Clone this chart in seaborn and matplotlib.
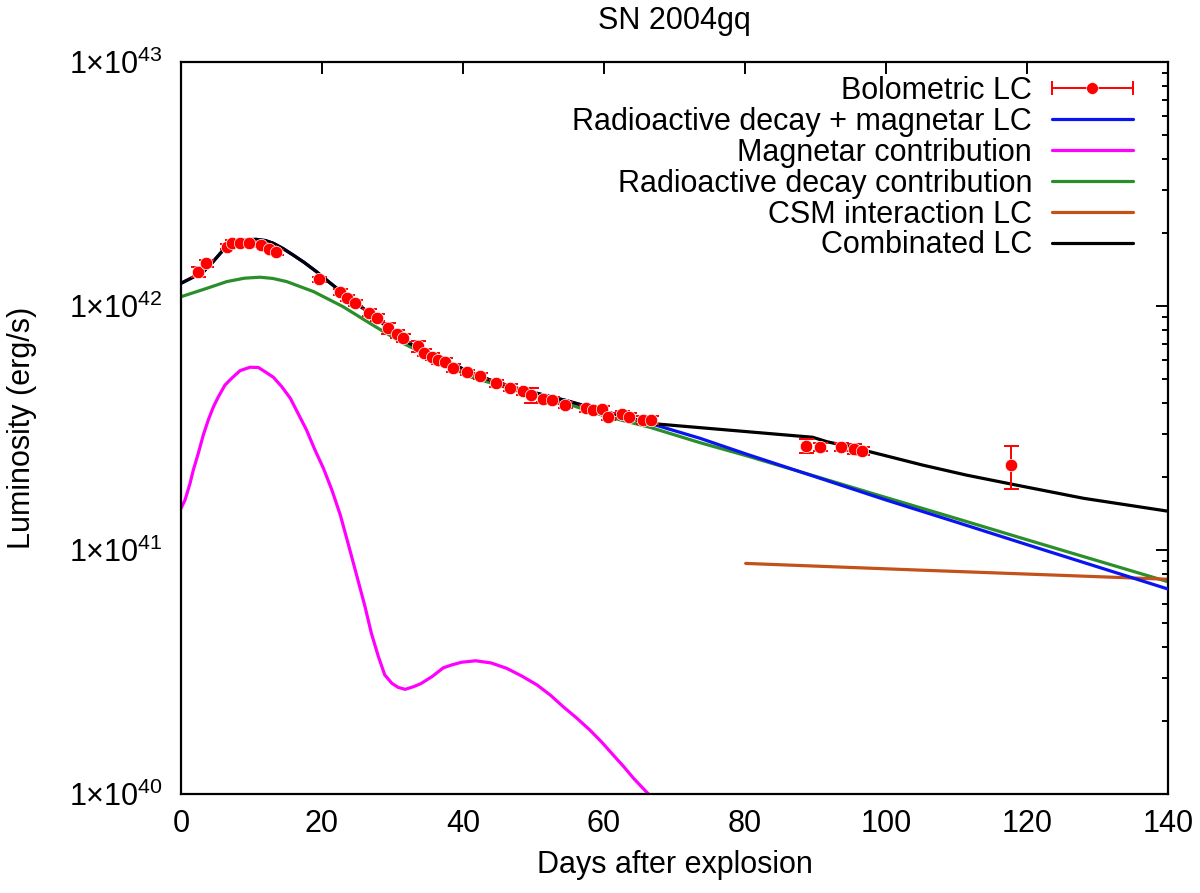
import numpy as np
import pandas as pd
import matplotlib
matplotlib.use("Agg")
import matplotlib.pyplot as plt
import seaborn as sns
from matplotlib.lines import Line2D
from matplotlib.legend_handler import HandlerLine2D
from matplotlib.ticker import LogLocator, NullFormatter

# ---------------- data ----------------
obs_days = [2.4, 3.6, 6.5, 7.2, 8.4, 9.6, 11.3, 12.5, 13.5,
            19.6, 22.5, 23.6, 24.7, 26.6, 27.8, 29.4, 30.6, 31.5,
            33.6, 34.4, 35.6, 36.5, 37.4, 38.6, 40.5,
            42.4, 44.7, 46.6, 48.5, 49.6, 51.4, 52.6, 54.4,
            57.4, 58.5, 59.7, 60.6, 62.5, 63.6, 65.5, 66.6,
            88.7, 90.6, 93.6, 95.4, 96.6, 117.7]
obs_lum42 = [1.38, 1.50, 1.75, 1.82, 1.82, 1.82, 1.78, 1.72, 1.66,
             1.29, 1.14, 1.08, 1.03, 0.94, 0.895, 0.81, 0.77, 0.74,
             0.685, 0.644, 0.62, 0.60, 0.59, 0.556, 0.534,
             0.517, 0.482, 0.462, 0.448, 0.432, 0.416, 0.41, 0.393,
             0.381, 0.375, 0.377, 0.352, 0.36, 0.352, 0.341, 0.341,
             0.267, 0.264, 0.264, 0.259, 0.255, 0.223]
obs_err42 = [0.06, 0.05, 0.04, 0.04, 0.03, 0.03, 0.04, 0.04, 0.04,
             0.03, 0.03, 0.03, 0.03, 0.03, 0.03, 0.04, 0.03, 0.03,
             0.035, 0.02, 0.02, 0.02, 0.02, 0.02, 0.015,
             0.015, 0.015, 0.015, 0.015, 0.03, 0.012, 0.012, 0.012,
             0.012, 0.012, 0.012, 0.012, 0.012, 0.012, 0.012, 0.012,
             0.018, 0.01, 0.01, 0.012, 0.01, 0.045]

# Radioactive decay + magnetar (blue), log10 L
blue_days = [0, 1.5, 3.2, 4.5, 6.0, 7.9, 9.3, 10.7, 12, 13.1, 14.5, 15.9, 17.5, 19.2,
             21, 23.0, 24.9, 26.8, 29, 31.5, 33.9, 36.3, 38.7, 41.0, 44, 48, 51.5,
             54.7, 58, 62, 66.5, 73.6, 80, 90, 100, 110, 120, 130, 140]
blue_log = [42.093, 42.115, 42.141, 42.18, 42.23, 42.264, 42.272, 42.273, 42.268, 42.257,
            42.235, 42.209, 42.178, 42.141, 42.098, 42.052, 42.01, 41.97, 41.92, 41.861,
            41.825, 41.792, 41.76, 41.728, 41.695, 41.66, 41.635, 41.612, 41.585, 41.553,
            41.519, 41.458, 41.395, 41.30, 41.205, 41.114, 41.022, 40.931, 40.84]

# Magnetar contribution (magenta)
mag_days = [0, 0.57, 1.28, 1.75, 2.45, 3.16, 3.87, 4.6, 5.3, 6.24, 7.2, 8.37, 9.8, 10.97,
            11.9, 13.1, 14.3, 15.5, 16.6, 17.8, 19.0, 20.2, 21.4, 22.6, 23.7, 24.9, 26.1,
            27.0, 28.0, 28.9, 29.9, 30.8, 31.8, 33.0, 34.0, 35.6, 37.2, 38.4, 39.8, 41.8,
            44.0, 46.2, 48.3, 50.5, 52.4, 54.2, 56.1, 58.0, 59.7, 61.3, 62.8, 64.2, 66.3,
            68.5]
mag_log = [41.171, 41.205, 41.273, 41.328, 41.396, 41.471, 41.533, 41.587, 41.628, 41.676,
           41.704, 41.735, 41.749, 41.748, 41.731, 41.708, 41.669, 41.622, 41.56, 41.492,
           41.41, 41.335, 41.246, 41.143, 41.027, 40.898, 40.768, 40.659, 40.563, 40.488,
           40.454, 40.437, 40.429, 40.44, 40.452, 40.481, 40.517, 40.529, 40.54, 40.546,
           40.537, 40.515, 40.484, 40.447, 40.405, 40.358, 40.312, 40.262, 40.212, 40.16,
           40.112, 40.064, 40.0, 39.9]

# Radioactive decay contribution (green)
green_days = [0, 3.2, 6.5, 9, 11.2, 13, 15.0, 18.8, 23.0, 26.8, 31.5, 36.3, 41.0,
              48, 54.7, 60, 66.5, 73.6, 80, 90, 100, 110, 120, 130, 140]
green_log = [42.038, 42.068, 42.10, 42.114, 42.118, 42.113, 42.10, 42.059, 41.997,
             41.929, 41.847, 41.779, 41.71, 41.65, 41.60, 41.55, 41.503, 41.44,
             41.388, 41.302, 41.215, 41.129, 41.042, 40.956, 40.87]

# CSM interaction LC (orange)
csm_days = [80.1, 104.4, 140]
csm_log = [40.945, 40.918, 40.88]

# Combined LC (black)
comb_days = [0, 1.5, 3.2, 4.5, 6.0, 7.9, 9.3, 10.7, 12, 13.1, 14.5, 15.9, 17.5, 19.2,
             21, 23.0, 24.9, 26.8, 29, 31.5, 33.9, 36.3, 38.7, 41.0, 44, 48, 51.5,
             54.7, 58, 62, 66.5, 89.6, 91.6, 94.9, 99.6, 105.2, 111.4, 118.5, 128, 140]
comb_log = [42.093, 42.115, 42.141, 42.18, 42.23, 42.264, 42.272, 42.273, 42.268, 42.257,
            42.235, 42.209, 42.178, 42.141, 42.098, 42.052, 42.01, 41.97, 41.92, 41.861,
            41.825, 41.792, 41.76, 41.728, 41.695, 41.66, 41.635, 41.612, 41.585, 41.553,
            41.519, 41.462, 41.444, 41.423, 41.389, 41.348, 41.307, 41.266, 41.212, 41.159]

xtick_vals = [0, 20, 40, 60, 80, 100, 120, 140]
ytick_vals = [1e40, 1e41, 1e42, 1e43]
ytick_labels = [r"$\mathregular{1{\times}10^{40}}$", r"$\mathregular{1{\times}10^{41}}$",
                r"$\mathregular{1{\times}10^{42}}$", r"$\mathregular{1{\times}10^{43}}$"]
legend_labels = ["Bolometric LC", "Radioactive decay + magnetar LC", "Magnetar contribution",
                 "Radioactive decay contribution", "CSM interaction LC", "Combinated LC"]

# ---------------- style ----------------
sns.set_theme(style="white", rc={
    "axes.edgecolor": "black", "text.color": "black", "axes.labelcolor": "black",
    "xtick.color": "black", "ytick.color": "black"})
plt.rcParams["font.family"] = ["Liberation Sans", "DejaVu Sans"]
plt.rcParams["mathtext.fontset"] = "custom"
plt.rcParams["mathtext.rm"] = "Liberation Sans"
plt.rcParams["mathtext.it"] = "Liberation Sans:italic"
plt.rcParams["mathtext.bf"] = "Liberation Sans:bold"

FS = 22
LW = 2.3
C_BLUE, C_MAG, C_GREEN, C_CSM, C_BLACK = "#0a14f0", "#ff00ff", "#2a8f2a", "#c4501a", "#000000"

fig = plt.figure(figsize=(12, 8.93), dpi=100)
ax = fig.add_axes([181 / 1200, 1 - 794 / 893, 987 / 1200, 732 / 893])
ax.set_yscale("log")


def curve(days, logs, color, z):
    df = pd.DataFrame({"day": days, "L": 10.0 ** np.asarray(logs)})
    sns.lineplot(data=df, x="day", y="L", color=color, lw=LW, sort=False,
                 estimator=None, ax=ax, zorder=z, legend=False)


curve(green_days, green_log, C_GREEN, 2)
curve(blue_days, blue_log, C_BLUE, 3)
curve(mag_days, mag_log, C_MAG, 2)
curve(csm_days, csm_log, C_CSM, 2)
curve(comb_days, comb_log, C_BLACK, 4)

L_obs = np.asarray(obs_lum42) * 1e42
E_obs = np.asarray(obs_err42) * 1e42
ax.errorbar(obs_days, L_obs, yerr=E_obs, fmt="none", ecolor="red", elinewidth=1.4,
            capsize=5.4, capthick=1.4, zorder=5)
sns.scatterplot(x=obs_days, y=L_obs, color="red", s=80, edgecolor="white",
                linewidth=0.5, zorder=6, ax=ax, legend=False)

ax.set_xlim(0, 140)
ax.set_ylim(1e40, 1e43)
ax.set_xticks(xtick_vals)
ax.set_xticklabels([str(v) for v in xtick_vals])
ax.set_yticks(ytick_vals)
ax.set_yticklabels(ytick_labels)
ax.yaxis.set_minor_locator(LogLocator(base=10, subs=np.arange(2, 10)))
ax.yaxis.set_minor_formatter(NullFormatter())
ax.tick_params(which="both", direction="in", top=True, right=True, width=1.4, colors="black")
ax.tick_params(which="major", length=8.5, labelsize=FS)
ax.tick_params(which="minor", length=4.5)
ax.tick_params(axis="x", which="major", pad=11)
ax.tick_params(axis="y", which="major", pad=13)
for lab in ax.get_yticklabels():
    lab.set_verticalalignment("center_baseline")
for s in ax.spines.values():
    s.set_linewidth(1.6)
    s.set_color("black")

ax.set_xlabel("Days after explosion", fontsize=FS, labelpad=8)
ax.set_ylabel("Luminosity (erg/s)", fontsize=FS, labelpad=23)
ax.set_title("SN 2004gq", fontsize=FS, pad=24)

# legend
bolo_caps = Line2D([], [], color="red", lw=1.4, marker="|", markersize=9.5, markeredgewidth=1.4)
bolo_dot = Line2D([], [], color="red", ls="none", marker="o", markersize=8.5,
                  markeredgecolor="white", markeredgewidth=0.4)
handles = [(bolo_caps, bolo_dot)] + [Line2D([], [], color=c, lw=LW)
                                     for c in (C_BLUE, C_MAG, C_GREEN, C_CSM, C_BLACK)]
handler_map = {bolo_caps: HandlerLine2D(numpoints=2, marker_pad=0),
               bolo_dot: HandlerLine2D(numpoints=1)}
ax.legend(handles, legend_labels, handler_map=handler_map, loc="upper right",
          bbox_to_anchor=(0.9645, 0.981), frameon=False, markerfirst=False,
          handlelength=2.65, handletextpad=0.65, labelspacing=0.03, borderpad=0,
          borderaxespad=0, fontsize=FS)

fig.savefig("out.png", dpi=100)
